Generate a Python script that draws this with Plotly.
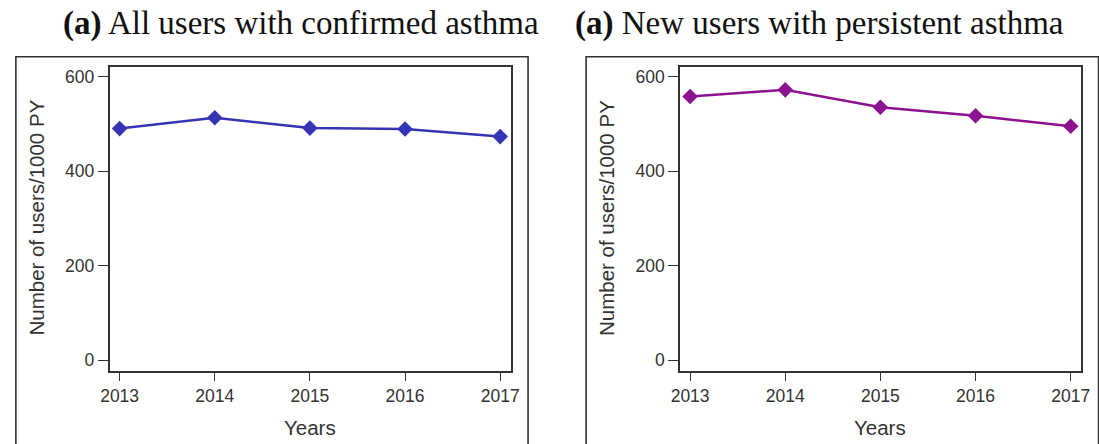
import plotly.graph_objects as go

# Annual rates of users per 1000 person-years
years = [2013, 2014, 2015, 2016, 2017]
confirmed_rates = [490, 513, 491, 489, 473]
persistent_rates = [558, 572, 535, 517, 495]

y_ticks = [0, 200, 400, 600]

titles = [
    "<b>(a)</b> All users with confirmed asthma",
    "<b>(a)</b> New users with persistent asthma",
]
y_title = "Number of users/1000 PY"
x_title = "Years"

W, H = 1099, 444
blue = "#3434b4"
purple = "#8c128f"
axis_col = "#333333"
sans = "Liberation Sans, Arial, sans-serif"
tick_font = dict(family=sans, size=17.5, color="#333333")

fig = go.Figure()

fig.add_trace(go.Scatter(
    x=years, y=confirmed_rates, mode="lines+markers",
    line=dict(color=blue, width=2.5),
    marker=dict(symbol="diamond", size=12, color=blue),
    xaxis="x", yaxis="y", showlegend=False,
))
fig.add_trace(go.Scatter(
    x=years, y=persistent_rates, mode="lines+markers",
    line=dict(color=purple, width=2.5),
    marker=dict(symbol="diamond", size=12, color=purple),
    xaxis="x2", yaxis="y2", showlegend=False,
))

px = lambda v: v / W
py = lambda v: 1 - v / H

x_dom = [(px(102.3), px(510)), (px(682.3), px(1090))]
y_dom = (py(370.7), py(66.7))

x_common = dict(
    range=[2012.895, 2017.11], tickvals=years, ticktext=[str(y) for y in years],
    showline=True, linecolor=axis_col, linewidth=1.6, mirror=True,
    ticks="outside", ticklen=8, tickwidth=1.4, tickcolor=axis_col,
    showgrid=False, zeroline=False, tickfont=tick_font,
)
y_common = dict(
    range=[-22.6, 621], tickvals=y_ticks,
    showline=True, linecolor=axis_col, linewidth=1.6, mirror=True,
    ticks="outside", ticklen=10, tickwidth=1.4, tickcolor=axis_col,
    showgrid=False, zeroline=False, tickfont=tick_font,
)

fig.update_layout(
    width=W, height=H,
    margin=dict(l=0, r=0, t=0, b=0),
    paper_bgcolor="white", plot_bgcolor="white",
    xaxis=dict(domain=x_dom[0], anchor="y", **x_common),
    yaxis=dict(domain=y_dom, anchor="x", **y_common),
    xaxis2=dict(domain=x_dom[1], anchor="y2", **x_common),
    yaxis2=dict(domain=y_dom, anchor="x2", **y_common),
)

# Outer panel frames
for x0, x1 in [(7, 527.7), (586.7, 1107.7)]:
    fig.add_shape(type="rect", xref="paper", yref="paper",
                  x0=px(x0), x1=px(x1), y0=py(470), y1=py(56.7),
                  line=dict(color=axis_col, width=1.6), fillcolor="rgba(0,0,0,0)")

# Panel titles and axis titles
title_centers = [297, 824]
for cx, t in zip(title_centers, titles):
    fig.add_annotation(x=px(cx), y=py(23), xref="paper", yref="paper",
                       text=t, showarrow=False, xanchor="center", yanchor="middle",
                       font=dict(family="Liberation Serif, Times New Roman, serif",
                                 size=33, color="#111111"))

for ycx, boxc in [(27, 306), (607, 886)]:
    fig.add_annotation(x=px(ycx), y=py(218), xref="paper", yref="paper",
                       text=y_title, showarrow=False, textangle=-90,
                       xanchor="center", yanchor="middle",
                       font=dict(family=sans, size=20.5, color="#333333"))
    fig.add_annotation(x=px(boxc), y=py(427), xref="paper", yref="paper",
                       text=x_title, showarrow=False, xanchor="center", yanchor="middle",
                       font=dict(family=sans, size=20.5, color="#333333"))

fig.write_html("out.html")
